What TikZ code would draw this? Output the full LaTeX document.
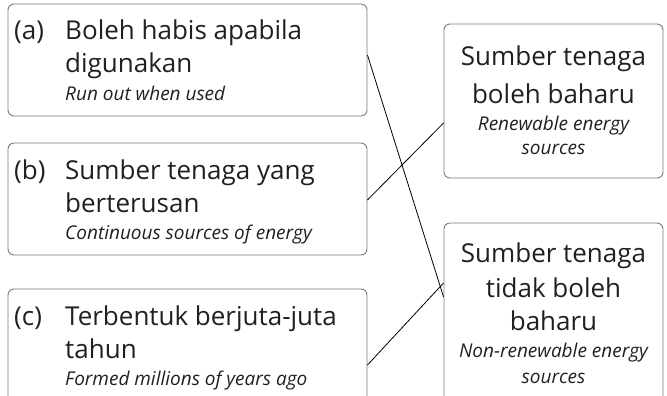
\documentclass[tikz,border=0pt]{standalone}
\usepackage{fontspec}
\setmainfont{Open Sans}
\definecolor{txt}{HTML}{231F20}
\definecolor{frame}{HTML}{7A7A7A}
\begin{document}
\begin{tikzpicture}[x=1pt,y=-1pt,
  box/.style={draw=frame,line width=0.9pt,rounded corners=6pt,inner sep=0pt},
  big/.style={anchor=base west,inner sep=0pt,text=txt,font=\fontsize{26}{30}\selectfont},
  it/.style={anchor=base west,inner sep=0pt,text=txt,font=\fontsize{19}{23}\selectfont\itshape},
  bigc/.style={anchor=base,inner sep=0pt,text=txt,font=\fontsize{26}{30}\selectfont},
  itc/.style={anchor=base,inner sep=0pt,text=txt,font=\fontsize{19}{23}\selectfont\itshape},
  link/.style={draw=black,line width=0.8pt}]
\useasboundingbox (0,0) rectangle (667,396);
\clip (0,0) rectangle (667,396);
% left boxes
\node[box,minimum width=359pt,minimum height=112pt] (boxa) at (187.5,60) {};
\node[box,minimum width=359pt,minimum height=112pt] (boxb) at (187.5,199) {};
\node[box,minimum width=359pt,minimum height=136pt] (boxc) at (187.5,357) {};
% right boxes
\node[box,minimum width=219pt,minimum height=154pt] (boxr) at (553.5,101) {};
\node[box,minimum width=219pt,minimum height=197pt] (boxn) at (553.5,321.5) {};
% texts a
\node[big] (la) at (14,40) {(a)};
\node[big] (ta1) at (65,40) {Boleh habis apabila};
\node[big] (ta2) at (65,73) {digunakan};
\node[it] (ea) at (65,100) {Run out when used};
% texts b
\node[big] (lb) at (14,179) {(b)};
\node[big] (tb1) at (65,179) {Sumber tenaga yang};
\node[big] (tb2) at (65,212) {berterusan};
\node[it] (eb) at (65,239) {Continuous sources of energy};
% texts c
\node[big] (lc) at (14,325) {(c)};
\node[big] (tc1) at (65,325) {Terbentuk berjuta-juta};
\node[big] (tc2) at (65,358) {tahun};
\node[it] (ec) at (65,385) {Formed millions of years ago};
% right texts
\node[bigc] (r1) at (553.5,66) {Sumber tenaga};
\node[bigc] (r2) at (553.5,103) {boleh baharu};
\node[itc] (r3) at (553.5,130) {Renewable energy};
\node[itc] (r4) at (553.5,154) {sources};
\node[bigc] (n1) at (553.5,262) {Sumber tenaga};
\node[bigc] (n2) at (553.5,297) {tidak boleh};
\node[bigc] (n3) at (553.5,330) {baharu};
\node[itc] (n4) at (553.5,357) {Non-renewable energy};
\node[itc] (n5) at (553.5,383) {sources};
% links
\draw[link] ([yshift=5pt]boxa.east) -- ([yshift=24.5pt]boxn.west);
\draw[link] ([yshift=-1pt]boxb.east) -- ([yshift=-22pt]boxr.west);
\draw[link] ([yshift=-8pt]boxc.east) -- ([yshift=38.5pt]boxn.west);
\end{tikzpicture}
\end{document}
